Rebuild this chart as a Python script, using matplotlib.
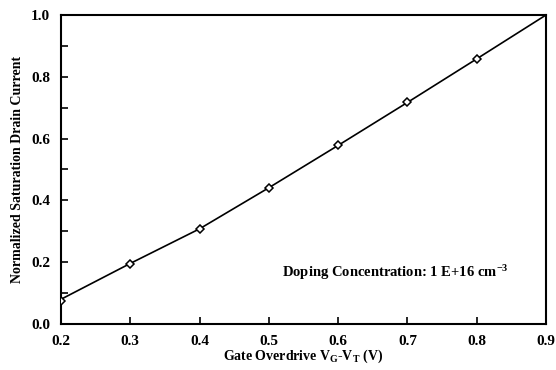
import numpy as np
import matplotlib.pyplot as plt

plt.rcParams['font.family'] = ['Liberation Serif', 'DejaVu Serif']
plt.rcParams['font.weight'] = 'bold'
plt.rcParams['mathtext.fontset'] = 'custom'
plt.rcParams['mathtext.rm'] = 'Liberation Serif:bold'
plt.rcParams['mathtext.it'] = 'Liberation Serif:bold'
plt.rcParams['mathtext.bf'] = 'Liberation Serif:bold'

# data
vov = [0.2, 0.3, 0.4, 0.5, 0.6, 0.7, 0.8]
idsat = [0.076, 0.194, 0.306, 0.440, 0.578, 0.717, 0.858]
# simulated curve
vov_line = [0.2, 0.3, 0.4, 0.5, 0.6, 0.7, 0.8, 0.9]
idsat_line = [0.080, 0.196, 0.308, 0.441, 0.578, 0.717, 0.858, 1.0]

fig = plt.figure(figsize=(5.56, 3.70), dpi=100)
ax = fig.add_axes([61 / 556, 1 - 324 / 370, 485 / 556, 309 / 370])

ax.plot(vov_line, idsat_line, color='black', lw=1.2, zorder=2)
ax.plot(vov, idsat, ls='none', marker='D', ms=4, mfc='white', mec='black',
        mew=1.1, zorder=3)

ax.set_xlim(0.2, 0.9)
ax.set_ylim(0.0, 1.0)
ax.set_xticks(np.arange(0.2, 0.91, 0.1))
ax.set_yticks(np.arange(0.0, 1.01, 0.2))
ax.set_yticks(np.arange(0.1, 1.0, 0.2), minor=True)
ax.xaxis.set_major_formatter(plt.FormatStrFormatter('%.1f'))
ax.yaxis.set_major_formatter(plt.FormatStrFormatter('%.1f'))
ax.tick_params(which='both', direction='in', width=1.2, labelsize=11, pad=8)
ax.tick_params(which='major', length=5)
ax.tick_params(which='minor', length=5)
for s in ax.spines.values():
    s.set_linewidth(1.5)

ax.set_xlabel('Gate Overdrive V$_{G}$-V$_{T}$ (V)', fontsize=10, fontweight='bold', labelpad=0)
ax.set_ylabel('Normalized Saturation Drain Current', fontsize=10, fontweight='bold', labelpad=5)
ax.text(0.683, 0.168, 'Doping Concentration: 1 E+16 cm$^{-3}$', fontsize=10.5,
        fontweight='bold', ha='center', va='center')

fig.savefig('out.png', dpi=100)
